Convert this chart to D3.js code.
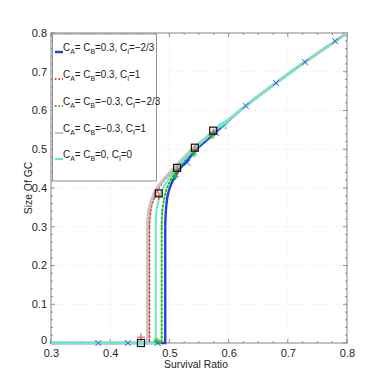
<!DOCTYPE html>
<html><head><meta charset="utf-8">
<script src="https://cdn.jsdelivr.net/npm/d3@7"></script>
<style>body{margin:0;background:#fff}svg{display:block}text{font-family:"Liberation Sans",Arial,sans-serif}</style>
</head><body><svg id="c" width="382" height="382"></svg>
<script>
// ---- data ----
const xTicks = [0.3,0.4,0.5,0.6,0.7,0.8];
const yTicks = [0,0.1,0.2,0.3,0.4,0.5,0.6,0.7,0.8];
const seriesNames = ["A= C|B=0.3, C|I=\u22122/3","A= C|B=0.3, C|I=1","A= C|B=\u22120.3, C|I=\u22122/3","A= C|B=\u22120.3, C|I=1","A= C|B=0, C|I=0"];
const blueX = [0.3,0.493,0.493,0.494,0.497,0.503,0.51,0.518,0.53,0.546,0.562,0.579,0.60,0.629,0.68,0.729,0.78,0.8];
const blueY = [0,0,0.30,0.34,0.38,0.41,0.43,0.45,0.47,0.50,0.522,0.545,0.574,0.612,0.671,0.725,0.779,0.8];
const redX = [0.3,0.466,0.466,0.468,0.473,0.482,0.494,0.51,0.525,0.54,0.56,0.578,0.60,0.629,0.68,0.729,0.78,0.8];
const redY = [0,0,0.30,0.34,0.37,0.40,0.425,0.45,0.475,0.50,0.525,0.55,0.576,0.612,0.671,0.725,0.779,0.8];
const greenX = [0.3,0.487,0.487,0.488,0.491,0.496,0.504,0.515,0.528,0.543,0.56,0.578,0.60,0.629,0.68,0.729,0.78,0.8];
const greenY = [0,0,0.30,0.34,0.37,0.40,0.425,0.45,0.475,0.50,0.525,0.55,0.576,0.612,0.671,0.725,0.779,0.8];
const grayX = [0.3,0.463,0.463,0.465,0.47,0.479,0.492,0.507,0.522,0.538,0.558,0.577,0.60,0.629,0.68,0.729,0.78,0.8];
const grayY = [0,0,0.30,0.34,0.37,0.40,0.425,0.45,0.475,0.50,0.525,0.55,0.576,0.612,0.671,0.725,0.779,0.8];
const cyanX = [0.3,0.477,0.477,0.478,0.482,0.489,0.5,0.512,0.526,0.542,0.56,0.578,0.60,0.629,0.68,0.729,0.78,0.8];
const cyanY = [0,0,0.30,0.34,0.37,0.40,0.425,0.45,0.475,0.50,0.525,0.55,0.576,0.612,0.671,0.725,0.779,0.8];
const blueMarkX = [0.38,0.43,0.48,0.53,0.579,0.629,0.68,0.729,0.78];
const blueMarkY = [0,0,0,0.465,0.542,0.612,0.671,0.725,0.779];
const squareX = [0.452,0.482,0.513,0.543,0.574];
const squareY = [0,0.386,0.452,0.504,0.548];
const redMarkX = [0.452,0.482,0.513,0.543,0.574];
const redMarkY = [0.015,0.38,0.447,0.499,0.543];
const greenMarkX = [0.479,0.51,0.541,0.572];
const greenMarkY = [0.005,0.43,0.488,0.535];
const cyanMarkX = [0.589];
const cyanMarkY = [0.563];

// ---- layout ----
const svg = d3.select("#c");
const L=51,R=347,T=33,B=343;
const x = d3.scaleLinear().domain([0.3,0.8]).range([L,R]);
const y = d3.scaleLinear().domain([0,0.8]).range([B,T]);

// grid
const g = svg.append("g");
g.selectAll(".gx").data(xTicks.slice(1,-1)).enter().append("line")
 .attr("x1",d=>x(d)).attr("x2",d=>x(d)).attr("y1",T).attr("y2",B)
 .attr("stroke","#d8d8d8").attr("stroke-width",0.7).attr("stroke-dasharray","1,2");
g.selectAll(".gy").data(yTicks.slice(1,-1)).enter().append("line")
 .attr("y1",d=>y(d)).attr("y2",d=>y(d)).attr("x1",L).attr("x2",R)
 .attr("stroke","#d8d8d8").attr("stroke-width",0.7).attr("stroke-dasharray","1,2");

// axes
const ax = svg.append("g").attr("transform",`translate(0,${B})`).call(d3.axisBottom(x).tickValues(xTicks).tickFormat(d3.format(".1f")).tickSize(0).tickPadding(2));
const ay = svg.append("g").attr("transform",`translate(${L},0)`).call(d3.axisLeft(y).tickValues(yTicks).tickFormat(d=>d===0?"0":d3.format(".1f")(d)).tickSize(0).tickPadding(4));
[ax,ay].forEach(a=>{a.select(".domain").remove();a.selectAll("text").attr("font-size",11).attr("fill","#222");});
ax.selectAll("text").attr("dy","1.05em");
ay.selectAll("text").attr("dy",d=>d===0?"0.05em":"0.3em");

// minor/major ticks inside frame
const tk = svg.append("g").attr("stroke","#666").attr("stroke-width",0.7);
const mx = d3.range(0.3,0.8001,0.025), my = d3.range(0,0.8001,0.02);
mx.forEach(v=>{const len=(Math.abs(v*10-Math.round(v*10))<1e-6)?4:2;
 tk.append("line").attr("x1",x(v)).attr("x2",x(v)).attr("y1",B).attr("y2",B-len);
 tk.append("line").attr("x1",x(v)).attr("x2",x(v)).attr("y1",T).attr("y2",T+len);});
my.forEach(v=>{const len=(Math.abs(v*10-Math.round(v*10))<1e-6)?4:2;
 tk.append("line").attr("y1",y(v)).attr("y2",y(v)).attr("x1",L).attr("x2",L+len);
 tk.append("line").attr("y1",y(v)).attr("y2",y(v)).attr("x1",R).attr("x2",R-len);});
svg.append("rect").attr("x",L).attr("y",T).attr("width",R-L).attr("height",B-T).attr("fill","none").attr("stroke","#777").attr("stroke-width",0.9);

// curves
const lin = d3.line().x(d=>x(d[0])).y(d=>y(d[1]));
const crv = d3.line().x(d=>x(d[0])).y(d=>y(d[1])).curve(d3.curveCatmullRom.alpha(0.5));
const zip=(a,b)=>a.map((v,i)=>[v,b[i]]);
const series = [
 {xs:blueX,ys:blueY,c:"#1f3fe0",w:2.4,dash:null},
 {xs:redX,ys:redY,c:"#f03030",w:2,dash:"1.5,2.5"},
 {xs:greenX,ys:greenY,c:"#22b822",w:2,dash:"1.5,2.5"},
 {xs:grayX,ys:grayY,c:"#c4c4c4",w:3,dash:null},
 {xs:cyanX,ys:cyanY,c:"#66ecc8",w:2,dash:null}
];
series.forEach(s=>{const pts=zip(s.xs,s.ys);
 [[lin,pts.slice(0,3)],[crv,pts.slice(2)]].forEach(([gen,p])=>{
 svg.append("path").datum(p).attr("d",gen).attr("fill","none")
 .attr("stroke",s.c).attr("stroke-width",s.w).attr("stroke-dasharray",s.dash).attr("stroke-linecap",s.dash?"round":"butt");});});

// markers
const mk = svg.append("g").attr("fill","none");
zip(blueMarkX,blueMarkY).forEach(p=>{const cx=x(p[0]),cy=y(p[1]),r=3;
 mk.append("path").attr("d",`M${cx-r},${cy-r}L${cx+r},${cy+r}M${cx-r},${cy+r}L${cx+r},${cy-r}`).attr("stroke","#3a5cf0").attr("stroke-width",1);});
zip(redMarkX,redMarkY).forEach(p=>{const cx=x(p[0]),cy=y(p[1]),r=4;
 mk.append("path").attr("d",`M${cx-r},${cy}L${cx+r},${cy}M${cx},${cy-r}L${cx},${cy+r}`).attr("stroke","#f04040").attr("stroke-width",1);});
zip(greenMarkX,greenMarkY).forEach(p=>{const cx=x(p[0]),cy=y(p[1]),r=3.5;
 mk.append("path").attr("d",`M${cx-r},${cy}L${cx+r},${cy}M${cx},${cy-r}L${cx},${cy+r}M${cx-r*0.7},${cy-r*0.7}L${cx+r*0.7},${cy+r*0.7}M${cx-r*0.7},${cy+r*0.7}L${cx+r*0.7},${cy-r*0.7}`).attr("stroke","#22b822").attr("stroke-width",1);});
zip(squareX,squareY).forEach(p=>{const cx=x(p[0]),cy=y(p[1]),r=3.5;
 mk.append("rect").attr("x",cx-r).attr("y",cy-r).attr("width",2*r).attr("height",2*r).attr("stroke","#111").attr("stroke-width",1.2);});
zip(cyanMarkX,cyanMarkY).forEach(p=>{const cx=x(p[0]),cy=y(p[1]),r=4;
 mk.append("path").attr("d",`M${cx-r},${cy}L${cx+r},${cy-r}L${cx+r},${cy+r}Z`).attr("stroke","#66ecc8").attr("stroke-width",1.2);});

// labels
svg.append("text").attr("transform",`translate(${(L+R)/2-3},368) scale(0.9,1)`).attr("text-anchor","middle").attr("font-size",11.5).attr("fill","#222").text("Survival Ratio");
svg.append("text").attr("transform",`translate(32,${(T+B)/2}) rotate(-90) scale(0.9,1)`).attr("text-anchor","middle").attr("font-size",11.5).attr("fill","#222").text("Size Of GC");

// legend
const lg = svg.append("g");
lg.append("rect").attr("x",52.5).attr("y",34).attr("width",104).attr("height",147).attr("fill","#fff").attr("stroke","#888").attr("stroke-width",0.9);
const legY=[51,78,105,132,158];
seriesNames.forEach((nm,i)=>{
 const s=series[i], yy=legY[i];
 lg.append("line").attr("x1",55).attr("x2",63).attr("y1",yy+1).attr("y2",yy+1).attr("stroke",s.c)
  .attr("stroke-width",i===0?2.4:2).attr("stroke-dasharray",s.dash?"1.5,2":null);
 const parts = nm.split("|");
 const t = lg.append("text").attr("transform",`translate(63,${yy}) scale(0.86,1)`).attr("font-size",11.5).attr("fill","#222");
 t.append("tspan").text("C");
 t.append("tspan").attr("dy",3).attr("font-size",8).text("A");
 t.append("tspan").attr("dy",-3).text(parts[0].slice(1));
 t.append("tspan").attr("dy",3).attr("font-size",8).text("B");
 t.append("tspan").attr("dy",-3).text(parts[1].slice(1));
 t.append("tspan").attr("dy",3).attr("font-size",8).text("I");
 t.append("tspan").attr("dy",-3).text(parts[2].slice(1));
});
</script></body></html>
